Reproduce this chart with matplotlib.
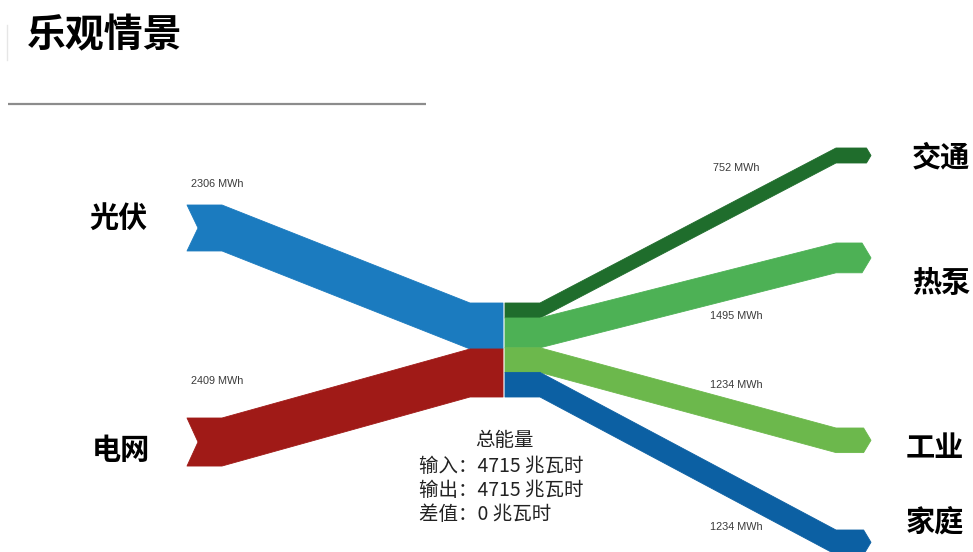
import matplotlib.pyplot as plt
from matplotlib.patches import Polygon

plt.rcParams['font.family'] = ['Noto Sans CJK SC', 'DejaVu Sans']

# Energy balance (MWh)
sources = ['光伏', '电网']
source_mwh = [2306, 2409]
targets = ['交通', '热泵', '工业', '家庭']
target_mwh = [752, 1495, 1234, 1234]

source_colors = ['#1b7bbf', '#a01a17']
target_colors = ['#1f6d2c', '#4db155', '#6cb84c', '#0c60a3']

# Layout in canvas pixels
PX_PER_MWH = 94 / 4715
HUB_TOP = 303
HUB_LEFT_X, HUB_RIGHT_X = 503, 505
SRC_TAIL_X, SRC_BEND_X, SRC_HUB_BEND_X = 187, 222, 470
SRC_END_TOP = [205, 418]
TGT_HUB_BEND_X, TGT_BEND_X, TGT_TIP_X = 540, 836, 871
TGT_END_TOP = [148, 243, 428, 530]

fig = plt.figure(figsize=(9.73, 5.52), dpi=100)
ax = fig.add_axes([0, 0, 1, 1])
ax.set_xlim(0, 973)
ax.set_ylim(552, 0)
ax.axis('off')

# Title and rule
ax.text(27, 36, '乐观情景', fontsize=28, fontweight='bold', va='center', ha='left')
ax.plot([8, 426], [104, 104], color='#8c8c8c', lw=1.6, solid_capstyle='butt')
ax.plot([7, 7], [25, 60], color='#e6e6e6', lw=1)

# Incoming flows
src_label_y = [184, 381]
src_name_pos = [(118, 218), (121, 450)]
y_hub = HUB_TOP
for name, val, color, y_end, ly, npos in zip(sources, source_mwh, source_colors,
                                             SRC_END_TOP, src_label_y, src_name_pos):
    w = val * PX_PER_MWH
    notch = 11
    pts = [(HUB_LEFT_X, y_hub), (SRC_HUB_BEND_X, y_hub), (SRC_BEND_X, y_end),
           (SRC_TAIL_X, y_end), (SRC_TAIL_X + notch, y_end + w / 2),
           (SRC_TAIL_X, y_end + w), (SRC_BEND_X, y_end + w),
           (SRC_HUB_BEND_X, y_hub + w), (HUB_LEFT_X, y_hub + w)]
    ax.add_patch(Polygon(pts, closed=True, facecolor=color, edgecolor=color,
                         lw=0.6, joinstyle='round'))
    ax.text(SRC_TAIL_X + 4, ly, f'{val} MWh', fontsize=7.8,
            family=['Liberation Sans'], color='#3a3a3a', va='center', ha='left')
    ax.text(npos[0], npos[1], name, fontsize=21, fontweight='bold',
            ha='center', va='center')
    y_hub += w

# Outgoing flows
tgt_label_y = [168, 316, 385, 527]
tgt_name_pos = [(941, 157), (941, 283), (935, 448), (935, 522)]
y_hub = HUB_TOP
for name, val, color, y_end, ly, npos in zip(targets, target_mwh, target_colors,
                                             TGT_END_TOP, tgt_label_y, tgt_name_pos):
    w = val * PX_PER_MWH
    base = TGT_TIP_X - 0.3 * w
    pts = [(HUB_RIGHT_X, y_hub), (TGT_HUB_BEND_X, y_hub), (TGT_BEND_X, y_end),
           (base, y_end), (TGT_TIP_X, y_end + w / 2), (base, y_end + w),
           (TGT_BEND_X, y_end + w), (TGT_HUB_BEND_X, y_hub + w),
           (HUB_RIGHT_X, y_hub + w)]
    ax.add_patch(Polygon(pts, closed=True, facecolor=color, edgecolor=color,
                         lw=0.6, joinstyle='round'))
    ax.text(736, ly, f'{val} MWh', fontsize=7.8, family=['Liberation Sans'],
            color='#3a3a3a', va='center', ha='center')
    ax.text(npos[0], npos[1], name, fontsize=21, fontweight='bold',
            ha='center', va='center')
    y_hub += w

# Balance summary
total_in = sum(source_mwh)
total_out = sum(target_mwh)
ax.text(504, 441, '总能量', fontsize=14, color='#222222', ha='center', va='center')
summary = [f'输入：{total_in} 兆瓦时', f'输出：{total_out} 兆瓦时',
           f'差值：{total_in - total_out} 兆瓦时']
for i, line in enumerate(summary):
    ax.text(419, 466 + 24.5 * i, line, fontsize=14, color='#222222',
            ha='left', va='center')

fig.savefig('out.png', dpi=100)
